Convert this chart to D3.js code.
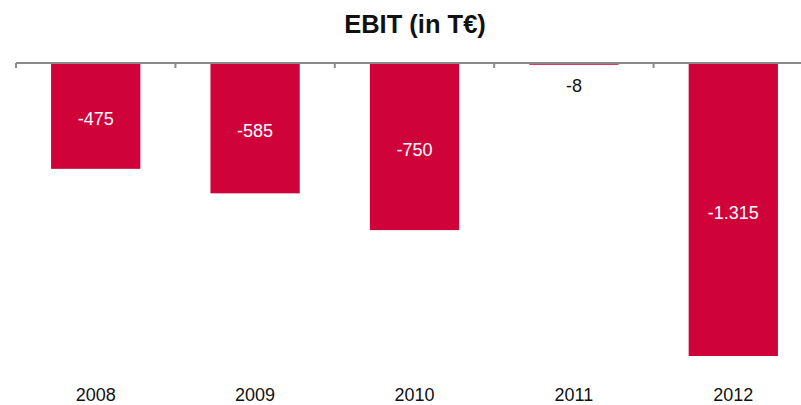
<!DOCTYPE html>
<html>
<head>
<meta charset="utf-8">
<script src="https://cdn.jsdelivr.net/npm/d3@7"></script>
<style>
  html, body { margin: 0; padding: 0; background: #fff; }
  svg { display: block; font-family: "Liberation Sans", Arial, Helvetica, sans-serif; }
</style>
</head>
<body>
<svg id="chart" width="801" height="405"></svg>
<script>
// EBIT per year, in thousand euros
const years = ["2008", "2009", "2010", "2011", "2012"];
const ebit = [-475, -585, -750, -8, -1315];
const valueLabels = ["-475", "-585", "-750", "-8", "-1.315"];
const chartTitle = "EBIT (in T€)";

const svg = d3.select("#chart");
const barColor = "#cf033a";
const axisColor = "#8a8a8a";

const x = d3.scaleBand()
  .domain(years)
  .range([16, 813])
  .paddingInner(0.44)
  .paddingOuter(0.22);

const y = d3.scaleLinear()
  .domain([-1315, 0])
  .range([356, 63]);

// title
svg.append("text")
  .attr("x", 415)
  .attr("y", 33)
  .attr("text-anchor", "middle")
  .attr("font-size", 25.5)
  .attr("font-weight", "bold")
  .attr("fill", "#111")
  .text(chartTitle);

// bars
svg.append("g").selectAll("rect")
  .data(years)
  .join("rect")
  .attr("x", d => x(d))
  .attr("width", x.bandwidth())
  .attr("y", y(0))
  .attr("height", (d, i) => y(ebit[i]) - y(0))
  .attr("fill", barColor);

// category axis along zero line, ticks between categories
const step = x.step();
const boundaries = d3.range(years.length + 1).map(i => x.range()[0] + i * step);
const axisG = svg.append("g");
axisG.append("line")
  .attr("x1", 16).attr("x2", 801)
  .attr("y1", y(0)).attr("y2", y(0))
  .attr("stroke", axisColor)
  .attr("stroke-width", 2);
axisG.selectAll("line.tick")
  .data(boundaries)
  .join("line")
  .attr("class", "tick")
  .attr("x1", d => d).attr("x2", d => d)
  .attr("y1", y(0)).attr("y2", y(0) + 5)
  .attr("stroke", axisColor)
  .attr("stroke-width", 2);

// category labels at the bottom
svg.append("g").selectAll("text")
  .data(years)
  .join("text")
  .attr("x", d => x(d) + x.bandwidth() / 2)
  .attr("y", 401)
  .attr("text-anchor", "middle")
  .attr("font-size", 18)
  .attr("fill", "#111")
  .text(d => d);

// value labels: inside the bar when it is tall enough, below it otherwise
svg.append("g").selectAll("text")
  .data(years)
  .join("text")
  .each(function (d, i) {
    const h = y(ebit[i]) - y(0);
    const inside = h > 30;
    d3.select(this)
      .attr("x", x(d) + x.bandwidth() / 2)
      .attr("y", inside ? (y(0) + y(ebit[i])) / 2 + 9 : y(ebit[i]) + 27)
      .attr("fill", inside ? "#fff" : "#111");
  })
  .attr("text-anchor", "middle")
  .attr("font-size", 18)
  .text((d, i) => valueLabels[i]);
</script>
</body>
</html>
